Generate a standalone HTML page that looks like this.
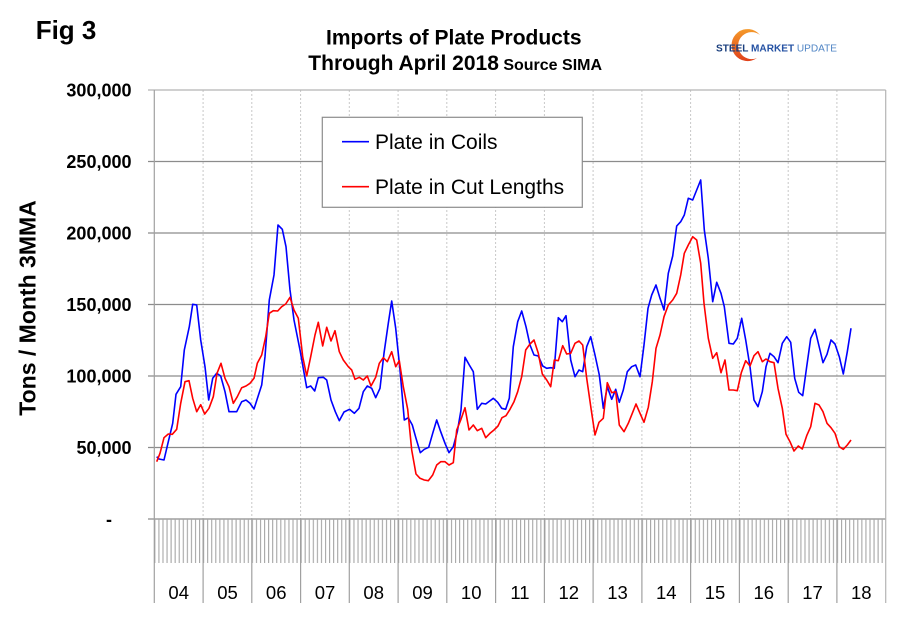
<!DOCTYPE html>
<html><head><meta charset="utf-8"><style>
html,body{margin:0;padding:0;background:#fff;}
svg{display:block;font-family:"Liberation Sans",Arial,sans-serif;}
</style></head><body>
<svg width="897" height="622" viewBox="0 0 897 622" xmlns="http://www.w3.org/2000/svg">
<defs>
<pattern id="mt" x="154.3" y="0" width="4.0633" height="622" patternUnits="userSpaceOnUse">
<rect x="0" y="0" width="1.1" height="622" fill="#a6a6a6"/>
</pattern>
<linearGradient id="og" x1="0" y1="0" x2="0" y2="1">
<stop offset="0" stop-color="#f59a2a"/><stop offset="1" stop-color="#e0401a"/>
</linearGradient>
</defs>
<rect width="897" height="622" fill="#fff"/>

<!-- titles -->
<text x="35.7" y="39" font-size="26" font-weight="bold" fill="#000">Fig 3</text>
<text x="326" y="44.3" font-size="21" font-weight="bold" fill="#000">Imports of Plate Products</text>
<text x="308.3" y="70" font-size="21" font-weight="bold" fill="#000">Through April 2018<tspan font-size="16"> Source SIMA</tspan></text>

<!-- logo -->
<path d="M760,35 A16,16 0 1 0 757,58 A13.5,13.5 0 1 1 760,35 Z" fill="url(#og)"/>
<text x="716" y="51.7" font-size="10.5" textLength="121" lengthAdjust="spacingAndGlyphs"><tspan font-weight="bold" fill="#1b3f7e">STEEL </tspan><tspan font-weight="bold" fill="#2451a3">MARKET </tspan><tspan fill="#4f84c4">UPDATE</tspan></text>

<!-- vertical dotted year gridlines -->
<g stroke="#c8c8c8" stroke-width="1" stroke-dasharray="2,2">
<line x1="203.1" y1="90" x2="203.1" y2="519"/><line x1="251.8" y1="90" x2="251.8" y2="519"/>
<line x1="300.6" y1="90" x2="300.6" y2="519"/><line x1="349.3" y1="90" x2="349.3" y2="519"/>
<line x1="398.1" y1="90" x2="398.1" y2="519"/><line x1="446.8" y1="90" x2="446.8" y2="519"/>
<line x1="495.6" y1="90" x2="495.6" y2="519"/><line x1="544.4" y1="90" x2="544.4" y2="519"/>
<line x1="593.1" y1="90" x2="593.1" y2="519"/><line x1="641.9" y1="90" x2="641.9" y2="519"/>
<line x1="690.6" y1="90" x2="690.6" y2="519"/><line x1="739.4" y1="90" x2="739.4" y2="519"/>
<line x1="788.2" y1="90" x2="788.2" y2="519"/><line x1="836.9" y1="90" x2="836.9" y2="519"/>
</g>

<!-- horizontal gridlines -->
<line x1="148" y1="90" x2="885.7" y2="90" stroke="#b4b4b4" stroke-width="1.2"/>
<g stroke="#8c8c8c" stroke-width="1.3">
<line x1="148" y1="161.5" x2="885.7" y2="161.5"/>
<line x1="148" y1="233" x2="885.7" y2="233"/>
<line x1="148" y1="304.5" x2="885.7" y2="304.5"/>
<line x1="148" y1="376" x2="885.7" y2="376"/>
<line x1="148" y1="447.5" x2="885.7" y2="447.5"/>
<line x1="148" y1="519" x2="885.7" y2="519"/>
</g>
<line x1="885.7" y1="90" x2="885.7" y2="603" stroke="#b4b4b4" stroke-width="1.2"/>

<!-- month ticks -->
<rect x="154.3" y="519" width="731.4" height="44" fill="url(#mt)"/>
<!-- year ticks -->
<g stroke="#a0a0a0" stroke-width="1.2">
<line x1="154.3" y1="90" x2="154.3" y2="603"/>
<line x1="203.1" y1="519" x2="203.1" y2="603"/><line x1="251.8" y1="519" x2="251.8" y2="603"/>
<line x1="300.6" y1="519" x2="300.6" y2="603"/><line x1="349.3" y1="519" x2="349.3" y2="603"/>
<line x1="398.1" y1="519" x2="398.1" y2="603"/><line x1="446.8" y1="519" x2="446.8" y2="603"/>
<line x1="495.6" y1="519" x2="495.6" y2="603"/><line x1="544.4" y1="519" x2="544.4" y2="603"/>
<line x1="593.1" y1="519" x2="593.1" y2="603"/><line x1="641.9" y1="519" x2="641.9" y2="603"/>
<line x1="690.6" y1="519" x2="690.6" y2="603"/><line x1="739.4" y1="519" x2="739.4" y2="603"/>
<line x1="788.2" y1="519" x2="788.2" y2="603"/><line x1="836.9" y1="519" x2="836.9" y2="603"/>
</g>

<!-- y labels -->
<g font-size="18" font-weight="bold" fill="#000" text-anchor="end">
<text x="131.5" y="96.5">300,000</text>
<text x="131.5" y="168">250,000</text>
<text x="131.5" y="239.5">200,000</text>
<text x="131.5" y="311">150,000</text>
<text x="131.5" y="382.5">100,000</text>
<text x="131.5" y="454">50,000</text>
<text x="112" y="525.5">-</text>
</g>
<text transform="translate(35.5,308) rotate(-90)" font-size="23" font-weight="bold" text-anchor="middle" fill="#000">Tons / Month 3MMA</text>

<!-- x labels -->
<g font-size="18.5" fill="#000" text-anchor="middle">
<text x="178.7" y="599">04</text><text x="227.5" y="599">05</text><text x="276.2" y="599">06</text>
<text x="325" y="599">07</text><text x="373.7" y="599">08</text><text x="422.5" y="599">09</text>
<text x="471.2" y="599">10</text><text x="520" y="599">11</text><text x="568.8" y="599">12</text>
<text x="617.5" y="599">13</text><text x="666.3" y="599">14</text><text x="715" y="599">15</text>
<text x="763.8" y="599">16</text><text x="812.5" y="599">17</text><text x="861.3" y="599">18</text>
</g>

<!-- series -->
<polyline fill="none" stroke="#0000ff" stroke-width="1.6" stroke-linejoin="round" points="156.7,456.7 159,459 164,460 168.3,441.7 172.7,423.3 176,394.3 180.7,386.7 184.3,350 189.3,326.7 192.7,304.3 196.7,305 200.7,340 205,366.7 208.7,400 212.7,378.3 216.7,373.3 220.7,376 225,391.7 229,411.7 236.7,411.7 241.7,401.7 246,400 250,403.3 254,409 261.7,385 265,356.7 269.3,300 274,275 278,225 282.3,229.3 286,246.7 290,290 294,320 300,350 306.7,387.7 310.7,386 314.7,391 318.3,377.7 323.3,377.3 326.7,380 331,400 335.3,411.7 339.3,420.7 344,412 349.5,409.3 354.3,413.3 359,408.3 363.3,391.7 367.3,386 371.7,388.3 375.7,397.7 380,388.3 384,353.3 388.3,323.3 391.7,301 395.7,328.3 400,370 404.3,420 408.3,417.7 412.3,425 416,438.3 420.3,452.7 424.3,449.3 428.7,447.3 432.7,433.3 436.7,420 440.7,431.7 445,443.3 449,452.7 453.3,446.7 457.3,431.7 461,410 465,357.3 469.3,365 473.3,371.7 477.3,409.3 481.7,403.3 485.7,404 489.7,401 493.3,398.3 497.7,402.3 501.7,408.3 505.7,409.3 509.3,398.3 513.3,346.7 517.7,321.7 521.7,311 526,326.7 530,345 534,355 538.3,356 542.7,366 546.7,368.3 550.7,367.7 554.3,368.3 558.3,317.7 562.3,321.7 566,315.7 570.7,360 575,376.7 579,370 582.7,371.7 586.7,346.7 590.7,336.7 595,355 599.3,375 603.3,408.3 607.3,386.7 611.7,399.3 615.7,389.3 619.3,402.3 623.3,390 627.3,371.7 631.7,366.7 635.7,365 640,376.7 644,345 648,308.3 651.7,295 656,285 660,298.3 664,310 668.3,273.3 672.7,256 676.7,226 680.7,221.7 684.3,215 688.3,198.3 692.7,200 696.7,190 700.7,180 704.3,230 708.3,258.3 712.7,301.7 716.7,282.3 721,293.3 724.3,306.7 729,343.3 733.3,344 737.3,338.3 741.7,318.3 745.7,340 750,366.7 754,400 758,406.7 762.3,391.7 766,366.7 770,353.3 774,356.7 778,362.7 782.3,343.3 786.7,336.7 790.7,342.3 794.7,378.3 798.7,392.3 802.7,395.7 806.7,366.7 810.7,338.3 815,329.3 819,346 823,362.7 827,354.3 831,340 835,344 839.3,356.7 843.3,374 847.3,351.7 851,328.3"/>
<polyline fill="none" stroke="#ff0000" stroke-width="1.6" stroke-linejoin="round" points="156.7,461.7 160,453.3 164,437.7 168.3,434 172.3,434.3 176.7,429.3 180.7,403.3 185,381.7 189,380.7 192.7,398.3 196.7,411.7 200.7,404.7 204.7,414 209,408.3 213.3,396.7 217,373.3 221,363.3 225,378.3 229,386.7 233.3,403.3 237.3,396.7 241.7,387.7 246,386 250,383.3 254,378.3 257.3,363.3 261.7,355 265.7,336.7 269.3,313.3 273.3,310.7 277.7,311 281.7,306.7 285.7,304 290,297.3 294,310 298.3,318.3 302.7,356.7 306.7,376 310.7,356.7 315,335 318.3,322.3 322.7,346 326.7,327.3 331,341 335,330.7 339.3,351.7 343.3,360 348.3,366.7 351.7,370 355,379.3 359.3,377.3 363.3,380 367.3,376 371,386 375.7,377.3 379.3,363.3 383.3,357.7 387.3,361.7 391.7,351.7 395.7,366.7 399.3,360.7 403.3,386.7 407.7,409.3 411.7,450 416,474 420,478.3 424.3,480 428.3,480.7 432.7,475 436.7,465 440.7,461.7 445,461.7 449,465 453.3,462.7 456.7,430 461,419.3 465,407.7 469,430 473.3,425 477.3,430.7 481.7,428.3 485.7,437.7 490,433.3 494,430 498,426 502,417.7 506,415.7 510,409.3 514,401.7 517.7,391.7 521.7,376.7 525.7,350 530,344 534,340 538.3,353.3 542.3,374 546.7,380 550.7,386.7 554.3,360 558.3,360.7 562.7,345.7 566.7,354 570.7,353.3 575,343.3 579,341 582.7,345 586.7,378.3 591,408.3 595,435 599,422.3 603.3,418.3 607.3,382.7 611.7,392.7 615.7,391.7 619.3,425 624,431.7 628.3,423.3 632.3,413.3 636,404 640,413.3 644,422.3 648.3,407.3 652.3,381.7 656,348.3 660,335 664,316.7 668.3,305 672.7,300 676.7,293.3 680.7,275 684.3,253.3 688.3,245 692.7,236.7 696.7,240 700.7,263.3 704,303.3 708.3,338.3 712.7,358.3 716.7,352.7 721,372.7 725,360 729,390 733.3,390 737.3,390.7 741.3,372.7 745.7,360.7 750,366 754,355.7 758,351.7 762.3,361.7 766,359 770,361.7 774,362.7 778,388.3 782.3,408.3 786,434.3 790,441.7 794,451 798.3,446 802.3,449 806.7,435.7 810.7,426.7 815,403.3 819,405 823,411.7 827,423.3 831,427.7 835,433.3 839.3,446.7 843.3,449.3 847.3,445 851,440"/>

<!-- legend -->
<rect x="322.3" y="117.3" width="260" height="90" fill="#fff" stroke="#8c8c8c" stroke-width="1.2"/>
<line x1="342" y1="141.7" x2="369" y2="141.7" stroke="#0000ff" stroke-width="1.6"/>
<line x1="342" y1="186.7" x2="369" y2="186.7" stroke="#ff0000" stroke-width="1.6"/>
<text x="375" y="149" font-size="21" fill="#000">Plate in Coils</text>
<text x="375" y="194" font-size="21" fill="#000">Plate in Cut Lengths</text>
</svg>
</body></html>
